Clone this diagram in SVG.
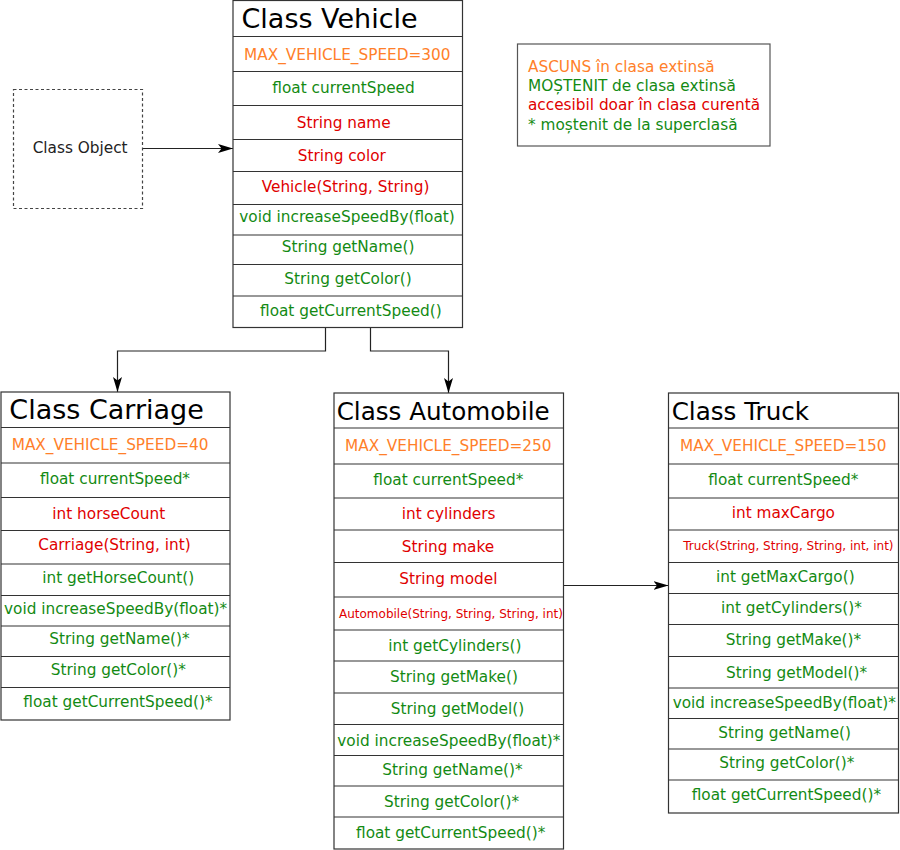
<svg xmlns="http://www.w3.org/2000/svg" width="900" height="850" viewBox="0 0 900 850">
<style>
.box{fill:#fff;stroke:#333;stroke-width:1.2}
.sep{stroke:#333;stroke-width:1.2;fill:none}
text{font-family:"DejaVu Sans","Bitstream Vera Sans",sans-serif;font-size:15.3px}
.title{font-size:27px;fill:#000}
.title2{font-size:24.6px;fill:#000}
.o{fill:#ff7f2a}
.g{fill:#138a13}
.r{fill:#e00000}
.s{font-size:12px}
.k{fill:#222}
.conn{fill:none;stroke:#222;stroke-width:1.2}
</style>
<defs>
<marker id="arr" markerUnits="userSpaceOnUse" markerWidth="16" markerHeight="10" refX="15" refY="5" orient="auto">
<path d="M0,0.5 L15,5 L0,9.5 L3.5,5 Z" fill="#000"/>
</marker>
</defs>
<rect width="900" height="850" fill="#fff"/>

<g id="connectors">
<path class="conn" d="M142,148.5 H233" marker-end="url(#arr)"/>
<path class="conn" d="M325.5,327.5 V351 H117.5 V392" marker-end="url(#arr)"/>
<path class="conn" d="M370.5,327.5 V351 H448.5 V393" marker-end="url(#arr)"/>
<path class="conn" d="M563.5,585.5 H668.5" marker-end="url(#arr)"/>
</g>

<g id="object">
<rect x="13.5" y="89.5" width="129" height="119" fill="#fff" stroke="#444" stroke-width="1.2" stroke-dasharray="3,2.5"/>
<text class="k" x="32.7" y="152.5">Class Object</text>
</g>

<g id="legend">
<rect x="517.5" y="44" width="252.5" height="102" fill="#fff" stroke="#555" stroke-width="1.2"/>
<text class="o" x="528" y="71.5">ASCUNS în clasa extinsă</text>
<text class="g" x="528" y="91">MOȘTENIT de clasa extinsă</text>
<text class="r" x="528" y="110">accesibil doar în clasa curentă</text>
<text class="g" x="528" y="129.5">* moștenit de la superclasă</text>
</g>

<g id="vehicle">
<rect class="box" x="233" y="0.5" width="229.5" height="327"/>
<path class="sep" d="M233,36.5H462.5M233,71.5H462.5M233,105.5H462.5M233,139.5H462.5M233,171.5H462.5M233,204.5H462.5M233,235H462.5M233,264.5H462.5M233,296H462.5"/>
<text class="title" x="241.5" y="28">Class Vehicle</text>
<text class="o" x="244" y="59.5">MAX_VEHICLE_SPEED=300</text>
<text class="g" x="272.3" y="93.3">float currentSpeed</text>
<text class="r" x="296.7" y="127.7">String name</text>
<text class="r" x="297.7" y="161">String color</text>
<text class="r" x="261.7" y="191.7">Vehicle(String, String)</text>
<text class="g" x="239.3" y="222.3">void increaseSpeedBy(float)</text>
<text class="g" x="281.7" y="252.3">String getName()</text>
<text class="g" x="284.3" y="284">String getColor()</text>
<text class="g" x="260" y="315.7">float getCurrentSpeed()</text>
</g>

<g id="carriage">
<rect class="box" x="1" y="392" width="229" height="328"/>
<path class="sep" d="M1,427.5H230M1,463H230M1,497.5H230M1,530.5H230M1,564H230M1,595.5H230M1,626H230M1,656.5H230M1,687.5H230"/>
<text class="title" x="9.3" y="418.5">Class Carriage</text>
<text class="o" x="11.7" y="450">MAX_VEHICLE_SPEED=40</text>
<text class="g" x="40" y="484.3">float currentSpeed*</text>
<text class="r" x="52.3" y="519.3">int horseCount</text>
<text class="r" x="38.3" y="550.3">Carriage(String, int)</text>
<text class="g" x="42.3" y="583.3">int getHorseCount()</text>
<text class="g" x="4" y="614">void increaseSpeedBy(float)*</text>
<text class="g" x="49.3" y="644.3">String getName()*</text>
<text class="g" x="50.7" y="675">String getColor()*</text>
<text class="g" x="23.3" y="707.3">float getCurrentSpeed()*</text>
</g>

<g id="automobile">
<rect class="box" x="334" y="393" width="229.5" height="456"/>
<path class="sep" d="M334,428H563.5M334,464H563.5M334,498H563.5M334,530H563.5M334,562.5H563.5M334,597H563.5M334,630H563.5M334,661H563.5M334,693H563.5M334,724.5H563.5M334,755.5H563.5M334,786H563.5M334,817H563.5"/>
<text class="title2" x="336.7" y="420">Class Automobile</text>
<text class="o" x="345" y="451">MAX_VEHICLE_SPEED=250</text>
<text class="g" x="373.3" y="485">float currentSpeed*</text>
<text class="r" x="401.7" y="519.3">int cylinders</text>
<text class="r" x="401.7" y="551.7">String make</text>
<text class="r" x="399.3" y="584.3">String model</text>
<text class="r s" x="339" y="617.7">Automobile(String, String, String, int)</text>
<text class="g" x="388.3" y="651">int getCylinders()</text>
<text class="g" x="390" y="682.3">String getMake()</text>
<text class="g" x="390.7" y="714.3">String getModel()</text>
<text class="g" x="337.3" y="745.7">void increaseSpeedBy(float)*</text>
<text class="g" x="382.3" y="775">String getName()*</text>
<text class="g" x="384" y="806.7">String getColor()*</text>
<text class="g" x="356" y="838.3">float getCurrentSpeed()*</text>
</g>

<g id="truck">
<rect class="box" x="668.5" y="393" width="230" height="420"/>
<path class="sep" d="M668.5,428H898.5M668.5,464H898.5M668.5,498H898.5M668.5,530H898.5M668.5,562.5H898.5M668.5,593.5H898.5M668.5,624.5H898.5M668.5,656.5H898.5M668.5,688H898.5M668.5,718.5H898.5M668.5,749H898.5M668.5,780H898.5"/>
<text class="title2" x="671.7" y="420">Class Truck</text>
<text class="o" x="680" y="451">MAX_VEHICLE_SPEED=150</text>
<text class="g" x="708.3" y="485">float currentSpeed*</text>
<text class="r" x="731.7" y="517.7">int maxCargo</text>
<text class="r s" x="683.3" y="550">Truck(String, String, String, int, int)</text>
<text class="g" x="716" y="581.7">int getMaxCargo()</text>
<text class="g" x="721" y="613.3">int getCylinders()*</text>
<text class="g" x="725.7" y="645">String getMake()*</text>
<text class="g" x="726" y="677.7">String getModel()*</text>
<text class="g" x="672.7" y="708.3">void increaseSpeedBy(float)*</text>
<text class="g" x="718.3" y="737.7">String getName()</text>
<text class="g" x="719.3" y="768.3">String getColor()*</text>
<text class="g" x="691.7" y="800">float getCurrentSpeed()*</text>
</g>
</svg>
